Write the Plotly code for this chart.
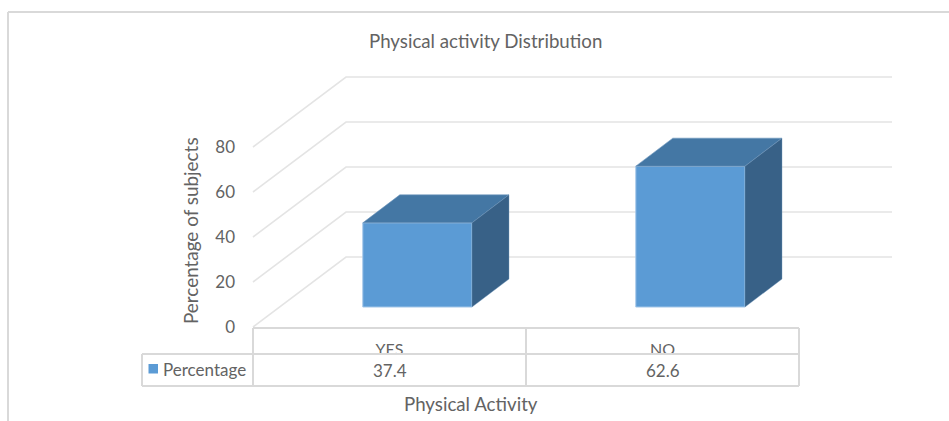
import plotly.graph_objects as go

# Survey results
categories = ["YES", "NO"]
percentages = [37.4, 62.6]
y_ticks = [0, 20, 40, 60, 80]
series_name = "Percentage"

W, H = 949, 421
FONT = "Lato"
TEXT = "#636363"
GRID = "#e4e4e4"
RULE = "#d9d9d9"

# Horizontal scale: one category is 273 px wide, the floor starts at x=253.
# Vertical scale: 2.25 px per percentage point, zero sits at y=327.
CAT_PX, X0_PX = 273.0, 253.0
UNIT_PX, Y0_PX = 2.25, 327.0


def dx(px):
    return px / CAT_PX


def dy(px):
    return px / UNIT_PX


def paper_x(px):
    return px / W


def paper_y(px):
    return 1 - px / H


# Oblique offsets of the back wall and of the bar faces
WALL_X, WALL_Y = dx(93), dy(70)
BAR_X, BAR_Y = dx(27.9), dy(20)
DEPTH_X, DEPTH_Y = dx(37), dy(28)
BAR_WIDTH = 0.4
N = len(categories)
centres = [i + 0.5 for i in range(N)]

fig = go.Figure()

# Front faces
fig.add_trace(go.Bar(
    x=[c + BAR_X for c in centres],
    y=percentages,
    base=[BAR_Y] * N,
    width=BAR_WIDTH,
    name=series_name,
    marker=dict(color="#5b9bd5", line=dict(color="#a3c6e8", width=1)),
    showlegend=False,
))

# Top and side faces follow each bar's value
for c, v in zip(centres, percentages):
    left = c + BAR_X - BAR_WIDTH / 2
    right = c + BAR_X + BAR_WIDTH / 2
    base, top = BAR_Y, BAR_Y + v
    fig.add_trace(go.Scatter(
        x=[left, right, right + DEPTH_X, left + DEPTH_X, left],
        y=[top, top, top + DEPTH_Y, top + DEPTH_Y, top],
        mode="lines", fill="toself", fillcolor="#4477a4",
        line=dict(color="#6f97bd", width=0.6),
        hoverinfo="skip", showlegend=False,
    ))
    fig.add_trace(go.Scatter(
        x=[right, right + DEPTH_X, right + DEPTH_X, right, right],
        y=[top, top + DEPTH_Y, base + DEPTH_Y, base, top],
        mode="lines", fill="toself", fillcolor="#386187",
        line=dict(color="#6f97bd", width=0.4),
        hoverinfo="skip", showlegend=False,
    ))

shapes = []

# Side wall and back wall gridlines, behind the bars
for t in y_ticks:
    shapes.append(dict(
        type="path", layer="below", xref="x", yref="y",
        path=f"M 0 {t} L {WALL_X} {t + WALL_Y} L {N + WALL_X} {t + WALL_Y}",
        line=dict(color=GRID, width=1.6),
    ))


def rule(x0, y0, x1, y1, color=RULE, width=2):
    shapes.append(dict(
        type="line", layer="above", xref="paper", yref="paper",
        x0=paper_x(x0), y0=paper_y(y0), x1=paper_x(x1), y1=paper_y(y1),
        line=dict(color=color, width=width),
    ))


# Data table: the lower row is opaque, so it trims the category labels above it
shapes.append(dict(
    type="rect", layer="above", xref="paper", yref="paper",
    x0=paper_x(142), x1=paper_x(799), y0=paper_y(354), y1=paper_y(386),
    fillcolor="white", line=dict(width=0),
))
rule(253, 328, 799, 328)
rule(142, 354, 799, 354)
rule(142, 386, 799, 386)
rule(142, 354, 142, 386)
rule(253, 328, 253, 386)
rule(526, 328, 526, 386)
rule(799, 328, 799, 386)

# Legend key in the table
shapes.append(dict(
    type="rect", layer="above", xref="paper", yref="paper",
    x0=paper_x(148.5), x1=paper_x(158), y0=paper_y(364), y1=paper_y(373.5),
    fillcolor="#5b9bd5", line=dict(width=0),
))

# Chart frame
rule(8, 12, W, 12)
rule(8, 12, 8, H)


def label(text, x, y, size, **kw):
    return dict(
        text=text, xref="paper", yref="paper",
        x=paper_x(x), y=paper_y(y), showarrow=False,
        xanchor="center", yanchor="middle",
        font=dict(family=FONT, size=size, color=TEXT), **kw,
    )


annotations = [
    label("Physical activity Distribution", 486, 41, 18.7),
    label("Physical Activity", 471, 404, 18.7),
    label("Percentage of subjects", 190, 231, 18.9, textangle=-90),
    label(series_name, 204.5, 369, 17),
]
for c, v in zip(centres, percentages):
    annotations.append(label(f"{v}", X0_PX + c * CAT_PX, 370, 17))

fig.update_layout(
    width=W, height=H,
    margin=dict(l=0, r=0, t=0, b=0, pad=0),
    paper_bgcolor="white", plot_bgcolor="white",
    showlegend=False,
    shapes=shapes,
    annotations=annotations,
    xaxis=dict(
        domain=[0, 1],
        range=[-X0_PX / CAT_PX, (W - X0_PX) / CAT_PX],
        tickmode="array", tickvals=centres, ticktext=categories,
        ticks="", ticklen=0, ticklabelstandoff=11,
        tickfont=dict(family=FONT, size=16, color=TEXT),
        showgrid=False, zeroline=False, showline=False,
        anchor="free", position=paper_y(Y0_PX),
        fixedrange=True,
    ),
    yaxis=dict(
        domain=[0, 1],
        range=[(Y0_PX - H) / UNIT_PX, Y0_PX / UNIT_PX],
        tickmode="array", tickvals=y_ticks,
        ticks="", ticklen=0, ticklabelstandoff=18,
        tickfont=dict(family=FONT, size=17, color=TEXT),
        showgrid=False, zeroline=False, showline=False,
        anchor="free", position=paper_x(X0_PX),
        fixedrange=True,
    ),
)

fig.write_html("out.html", config=dict(displayModeBar=False))
